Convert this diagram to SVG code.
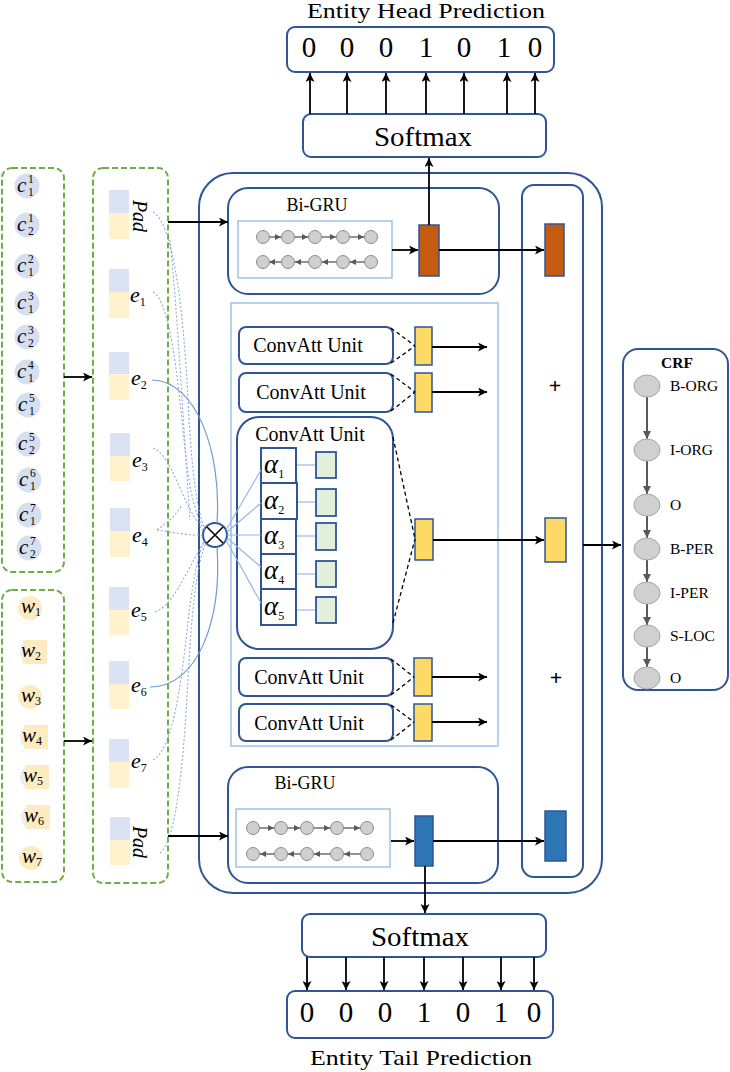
<svg xmlns="http://www.w3.org/2000/svg" width="730" height="1072" viewBox="0 0 730 1072">
<defs>
<marker id="ah" viewBox="0 0 10 10" refX="10" refY="5" markerWidth="9" markerHeight="9" markerUnits="userSpaceOnUse" orient="auto"><path d="M0,0 L10,5 L0,10 L2.5,5 z" fill="#000"/></marker>
<marker id="ahs" viewBox="0 0 10 10" refX="10" refY="5" markerWidth="6" markerHeight="6" markerUnits="userSpaceOnUse" orient="auto"><path d="M0,0 L10,5 L0,10 z" fill="#595959"/></marker>
<marker id="ahg" viewBox="0 0 10 10" refX="10" refY="5" markerWidth="8" markerHeight="8" markerUnits="userSpaceOnUse" orient="auto"><path d="M0,0 L10,5 L0,10 z" fill="#595959"/></marker>
</defs>
<style>
.t{font-family:"Liberation Serif","DejaVu Serif",serif;fill:#000}
.it{font-style:italic}
.box{fill:#fff;stroke:#2F5597;stroke-width:2}
.thin{fill:none;stroke:#2F5597;stroke-width:2}
.lb{fill:#fff;stroke:#9DC3E6;stroke-width:1.5}
.grn{fill:none;stroke:#70AD47;stroke-width:2;stroke-dasharray:6,3}
.ar{stroke:#000;stroke-width:1.8;fill:none;marker-end:url(#ah)}
.dash{stroke:#000;stroke-width:1.3;stroke-dasharray:4,3;fill:none}
.gc{fill:#D0CECE;stroke:#8C8C8C;stroke-width:1}
.ga{stroke:#595959;stroke-width:1.3;marker-end:url(#ahs)}
.eb{fill:#DAE3F3}
.ey{fill:#FFF2CC}
.cc{fill:#D6DFF0}
.wc{fill:#FFEBC2}
.dot{fill:none;stroke:#8FAADC;stroke-width:1.1;stroke-dasharray:2,2}
.sol{fill:none;stroke:#6F9BD8;stroke-width:1.2}
.fan{stroke:#8FB4E8;stroke-width:1.1}
.yel{fill:#FFD966;stroke:#2F5597;stroke-width:1.5}
.org{fill:#C55A11;stroke:#2F5597;stroke-width:1.5}
.blu{fill:#2E75B6;stroke:#2F5597;stroke-width:1.5}
.gsq{fill:#E2EFDA;stroke:#2F5597;stroke-width:1.8}
.crf{fill:#D0D0D0;stroke:#A6A6A6;stroke-width:1}
.ca{stroke:#595959;stroke-width:2;marker-end:url(#ahg)}
.sub{font-size:12px;font-style:normal}
</style>
<rect width="730" height="1072" fill="#fff"/>

<!-- Top prediction -->
<g id="head-title"><text class="t" x="426" y="18" font-size="21" text-anchor="middle" textLength="238" lengthAdjust="spacingAndGlyphs">Entity Head Prediction</text></g>
<g id="head-output">
<rect class="box" x="287" y="27" width="267" height="45" rx="8"/>
<g class="t" font-size="29" text-anchor="middle">
<text x="309" y="57">0</text><text x="347" y="57">0</text><text x="386" y="57">0</text><text x="426" y="57">1</text><text x="464" y="57">0</text><text x="504" y="57">1</text><text x="535" y="57">0</text>
</g>
</g>
<g id="head-softmax">
<rect class="box" x="303" y="114" width="243" height="43" rx="8"/>
<text class="t" x="423" y="146" font-size="27" text-anchor="middle" textLength="98" lengthAdjust="spacingAndGlyphs">Softmax</text>
</g>

<!-- Bottom prediction -->
<g id="tail-softmax">
<rect class="box" x="302" y="914" width="244" height="43" rx="8"/>
<text class="t" x="420" y="946" font-size="27" text-anchor="middle" textLength="98" lengthAdjust="spacingAndGlyphs">Softmax</text>
</g>
<g id="tail-output">
<rect class="box" x="287" y="991" width="266" height="47" rx="8"/>
<g class="t" font-size="29" text-anchor="middle">
<text x="307" y="1022">0</text><text x="346" y="1022">0</text><text x="385" y="1022">0</text><text x="424" y="1022">1</text><text x="463" y="1022">0</text><text x="501" y="1022">1</text><text x="534" y="1022">0</text>
</g>
</g>
<g id="tail-title"><text class="t" x="421" y="1065" font-size="21" text-anchor="middle" textLength="222" lengthAdjust="spacingAndGlyphs">Entity Tail Prediction</text></g>

<!-- Character input -->
<g id="char-input">
<rect class="grn" x="2" y="168" width="62" height="404" rx="10"/>
<g class="cc">
<circle cx="27" cy="186" r="12.5"/><circle cx="27" cy="225" r="12.5"/><circle cx="27" cy="266" r="12.5"/><circle cx="27" cy="303" r="12.5"/><circle cx="27" cy="337" r="12.5"/><circle cx="27" cy="372" r="12.5"/><circle cx="28" cy="405" r="12.5"/><circle cx="28" cy="444" r="12.5"/><circle cx="29" cy="480" r="12.5"/><circle cx="29" cy="515" r="12.5"/><circle cx="29" cy="548" r="12.5"/>
</g>
<g class="t it" font-size="21"><text x="17" y="192">c</text><text x="17" y="231">c</text><text x="17" y="272">c</text><text x="17" y="309">c</text><text x="17" y="343">c</text><text x="17" y="378">c</text><text x="18" y="411">c</text><text x="18" y="450">c</text><text x="19" y="486">c</text><text x="19" y="521">c</text><text x="19" y="554">c</text></g>
<g class="t" font-size="11.5">
<text x="28" y="183">1</text><text x="28" y="196">1</text>
<text x="28" y="222">1</text><text x="28" y="235">2</text>
<text x="28" y="263">2</text><text x="28" y="276">1</text>
<text x="28" y="300">3</text><text x="28" y="313">1</text>
<text x="28" y="334">3</text><text x="28" y="347">2</text>
<text x="28" y="369">4</text><text x="28" y="382">1</text>
<text x="29" y="402">5</text><text x="29" y="415">1</text>
<text x="29" y="441">5</text><text x="29" y="454">2</text>
<text x="30" y="477">6</text><text x="30" y="490">1</text>
<text x="30" y="512">7</text><text x="30" y="525">1</text>
<text x="30" y="545">7</text><text x="30" y="558">2</text>
</g>
</g>

<!-- Word input -->
<g id="word-input">
<rect class="grn" x="2" y="590" width="62" height="292" rx="10"/>
<g fill="#EDEDED"><circle cx="32" cy="652" r="12"/><circle cx="32" cy="737" r="12"/><circle cx="32" cy="777" r="12"/><circle cx="33" cy="817" r="12"/></g>
<g class="wc">
<circle cx="30" cy="608" r="12"/><rect x="23" y="640" width="24" height="24"/><circle cx="30" cy="697" r="12"/><rect x="24" y="725" width="24" height="24"/><rect x="25" y="765" width="24" height="24"/><rect x="26" y="805" width="24" height="24"/><circle cx="31" cy="858" r="12"/>
</g>
<g class="t it" font-size="21">
<text x="21" y="613">w<tspan class="sub" dy="3">1</tspan></text>
<text x="21" y="657">w<tspan class="sub" dy="3">2</tspan></text>
<text x="21" y="702">w<tspan class="sub" dy="3">3</tspan></text>
<text x="22" y="742">w<tspan class="sub" dy="3">4</tspan></text>
<text x="23" y="782">w<tspan class="sub" dy="3">5</tspan></text>
<text x="24" y="822">w<tspan class="sub" dy="3">6</tspan></text>
<text x="22" y="863">w<tspan class="sub" dy="3">7</tspan></text>
</g>
</g>

<!-- Embedding column -->
<g id="embeddings">
<rect class="grn" x="93" y="168" width="75" height="715" rx="10"/>
<g class="eb">
<rect x="109" y="190" width="20" height="23"/><rect x="109" y="269" width="20" height="23"/><rect x="109" y="352" width="20" height="22"/><rect x="110" y="433" width="20" height="23"/><rect x="110" y="508" width="20" height="23"/><rect x="109" y="587" width="20" height="23"/><rect x="109" y="661" width="20" height="23"/><rect x="109" y="739" width="20" height="23"/><rect x="110" y="817" width="20" height="23"/>
</g>
<g class="ey">
<rect x="109" y="213" width="20" height="26"/><rect x="109" y="292" width="20" height="26"/><rect x="109" y="374" width="20" height="26"/><rect x="110" y="456" width="20" height="25"/><rect x="110" y="531" width="20" height="26"/><rect x="109" y="610" width="20" height="25"/><rect x="109" y="684" width="20" height="25"/><rect x="109" y="762" width="20" height="26"/><rect x="110" y="840" width="20" height="25"/>
</g>
<text class="t it" x="0" y="0" font-size="20" text-anchor="middle" dominant-baseline="central" transform="translate(140,216) rotate(90)">Pad</text>
<text class="t it" x="0" y="0" font-size="20" text-anchor="middle" dominant-baseline="central" transform="translate(140,842) rotate(90)">Pad</text>
<g class="t it" font-size="22">
<text x="130" y="302">e<tspan class="sub" font-size="13" dy="4">1</tspan></text>
<text x="131" y="385">e<tspan class="sub" font-size="13" dy="4">2</tspan></text>
<text x="132" y="467">e<tspan class="sub" font-size="13" dy="4">3</tspan></text>
<text x="132" y="542">e<tspan class="sub" font-size="13" dy="4">4</tspan></text>
<text x="131" y="617">e<tspan class="sub" font-size="13" dy="4">5</tspan></text>
<text x="131" y="692">e<tspan class="sub" font-size="13" dy="4">6</tspan></text>
<text x="131" y="768">e<tspan class="sub" font-size="13" dy="4">7</tspan></text>
</g>
</g>

<!-- Main encoder container -->
<g id="encoder"><rect class="thin" x="199" y="173" width="403" height="720" rx="34"/></g>

<!-- Top Bi-GRU -->
<g id="bigru-top">
<rect class="box" x="228" y="188" width="271" height="106" rx="20"/>
<text class="t" x="317" y="211" font-size="18" text-anchor="middle">Bi-GRU</text>
<rect class="lb" x="238" y="221" width="154" height="57"/>
<g>
<line class="ga" x1="269" y1="237" x2="281" y2="237"/><line class="ga" x1="295" y1="237" x2="308" y2="237"/><line class="ga" x1="322" y1="237" x2="336" y2="237"/><line class="ga" x1="350" y1="237" x2="364" y2="237"/>
<line class="ga" x1="281" y1="262" x2="269" y2="262"/><line class="ga" x1="308" y1="262" x2="295" y2="262"/><line class="ga" x1="336" y1="262" x2="322" y2="262"/><line class="ga" x1="364" y1="262" x2="350" y2="262"/>
</g>
<g class="gc">
<circle cx="263" cy="237" r="6.5"/><circle cx="288" cy="237" r="6.5"/><circle cx="315" cy="237" r="6.5"/><circle cx="343" cy="237" r="6.5"/><circle cx="371" cy="237" r="6.5"/>
<circle cx="263" cy="262" r="6.5"/><circle cx="288" cy="262" r="6.5"/><circle cx="315" cy="262" r="6.5"/><circle cx="343" cy="262" r="6.5"/><circle cx="371" cy="262" r="6.5"/>
</g>
<rect class="org" x="419" y="225" width="20" height="51"/>
</g>

<!-- ConvAtt region -->
<g id="convatt-region"><rect class="lb" x="231" y="303" width="267" height="443"/></g>
<g id="convatt-1">
<rect class="box" x="239" y="327" width="154" height="37" rx="7"/>
<text class="t" x="308" y="352" font-size="20" text-anchor="middle">ConvAtt Unit</text>
<rect class="yel" x="415" y="327" width="17" height="38"/>
</g>
<g id="convatt-2">
<rect class="box" x="239" y="373" width="154" height="39" rx="7"/>
<text class="t" x="311" y="399" font-size="20" text-anchor="middle">ConvAtt Unit</text>
<rect class="yel" x="415" y="373" width="17" height="39"/>
</g>
<g id="convatt-3">
<rect class="box" x="237" y="417" width="156" height="232" rx="22"/>
<text class="t" x="310" y="441" font-size="20" text-anchor="middle">ConvAtt Unit</text>
<g class="fan">
<line x1="296" y1="465" x2="316" y2="465"/><line x1="296" y1="502" x2="316" y2="502"/><line x1="296" y1="536" x2="316" y2="536"/><line x1="296" y1="574" x2="316" y2="574"/><line x1="296" y1="610" x2="316" y2="610"/>
</g>
<g fill="#fff" stroke="#2F5597" stroke-width="2">
<rect x="261" y="448" width="35" height="35"/><rect x="261" y="483" width="36" height="36"/><rect x="261" y="519" width="35" height="35"/><rect x="261" y="554" width="35" height="35"/><rect x="261" y="589" width="35" height="36"/>
</g>
<g class="gsq">
<rect x="316" y="452" width="20" height="26"/><rect x="316" y="489" width="20" height="27"/><rect x="316" y="523" width="20" height="27"/><rect x="316" y="561" width="20" height="26"/><rect x="316" y="597" width="20" height="26"/>
</g>
<g class="t it" font-size="27">
<text x="264" y="473">α<tspan class="sub" font-size="15" dy="5">1</tspan></text>
<text x="264" y="509">α<tspan class="sub" font-size="15" dy="5">2</tspan></text>
<text x="264" y="544">α<tspan class="sub" font-size="15" dy="5">3</tspan></text>
<text x="264" y="579">α<tspan class="sub" font-size="15" dy="5">4</tspan></text>
<text x="264" y="615">α<tspan class="sub" font-size="15" dy="5">5</tspan></text>
</g>
<rect class="yel" x="415" y="519" width="18" height="41"/>
</g>
<g id="convatt-4">
<rect class="box" x="239" y="658" width="154" height="38" rx="7"/>
<text class="t" x="309" y="684" font-size="20" text-anchor="middle">ConvAtt Unit</text>
<rect class="yel" x="414" y="658" width="18" height="38"/>
</g>
<g id="convatt-5">
<rect class="box" x="239" y="704" width="154" height="37" rx="7"/>
<text class="t" x="309" y="730" font-size="20" text-anchor="middle">ConvAtt Unit</text>
<rect class="yel" x="414" y="704" width="18" height="37"/>
</g>

<!-- Bottom Bi-GRU -->
<g id="bigru-bottom">
<rect class="box" x="228" y="767" width="270" height="116" rx="20"/>
<text class="t" x="305" y="789" font-size="18" text-anchor="middle">Bi-GRU</text>
<rect class="lb" x="236" y="809" width="154" height="58"/>
<g>
<line class="ga" x1="260" y1="828" x2="274" y2="828"/><line class="ga" x1="288" y1="828" x2="300" y2="828"/><line class="ga" x1="314" y1="828" x2="330" y2="828"/><line class="ga" x1="344" y1="828" x2="360" y2="828"/>
<line class="ga" x1="274" y1="854" x2="260" y2="854"/><line class="ga" x1="300" y1="854" x2="288" y2="854"/><line class="ga" x1="330" y1="854" x2="314" y2="854"/><line class="ga" x1="360" y1="854" x2="344" y2="854"/>
</g>
<g class="gc">
<circle cx="253" cy="828" r="6.5"/><circle cx="281" cy="828" r="6.5"/><circle cx="307" cy="828" r="6.5"/><circle cx="337" cy="828" r="6.5"/><circle cx="367" cy="828" r="6.5"/>
<circle cx="253" cy="854" r="6.5"/><circle cx="281" cy="854" r="6.5"/><circle cx="307" cy="854" r="6.5"/><circle cx="337" cy="854" r="6.5"/><circle cx="367" cy="854" r="6.5"/>
</g>
<rect class="blu" x="415" y="816" width="18" height="50"/>
</g>

<!-- Sum column -->
<g id="sum-column">
<rect class="thin" x="522" y="185" width="61" height="692" rx="12"/>
<rect class="org" x="545" y="224" width="19" height="52"/>
<text class="t" x="555" y="393" font-size="22" text-anchor="middle" font-family="Liberation Sans" font-weight="bold">+</text>
<rect class="yel" x="545" y="518" width="21" height="44"/>
<text class="t" x="556" y="685" font-size="22" text-anchor="middle" font-family="Liberation Sans" font-weight="bold">+</text>
<rect class="blu" x="545" y="811" width="21" height="50"/>
</g>

<!-- CRF -->
<g id="crf">
<rect class="box" x="623" y="349" width="105" height="341" rx="15"/>
<text class="t" x="677" y="368" font-size="15.5" font-weight="bold" text-anchor="middle">CRF</text>
<line class="ca" x1="647" y1="397" x2="647" y2="439"/>
<line class="ca" x1="647" y1="461" x2="647" y2="494"/>
<line class="ca" x1="647" y1="516" x2="647" y2="538"/>
<line class="ca" x1="647" y1="560" x2="647" y2="582"/>
<line class="ca" x1="647" y1="604" x2="647" y2="625"/>
<line class="ca" x1="647" y1="647" x2="647" y2="667"/>
<g class="crf">
<ellipse cx="647" cy="386" rx="13" ry="11"/><ellipse cx="647" cy="450" rx="13" ry="11"/><ellipse cx="647" cy="505" rx="13" ry="11"/><ellipse cx="647" cy="549" rx="13" ry="11"/><ellipse cx="647" cy="593" rx="13" ry="11"/><ellipse cx="647" cy="636" rx="13" ry="11"/><ellipse cx="647" cy="678" rx="13" ry="11"/>
</g>
<g class="t" font-size="15.5">
<text x="670" y="391">B-ORG</text><text x="670" y="455">I-ORG</text><text x="670" y="510">O</text><text x="670" y="554">B-PER</text><text x="670" y="598">I-PER</text><text x="670" y="641">S-LOC</text><text x="670" y="683">O</text>
</g>
</g>

<!-- Attention combiner -->
<g id="combiner">
<circle cx="215" cy="535" r="12" fill="#fff" stroke="#2F5597" stroke-width="2"/>
<path d="M207,527 L223,543 M223,527 L207,543" stroke="#000" stroke-width="1.6"/>
</g>

<!-- Connectors -->
<g id="connectors">
<g class="dot">
<path d="M153,212 C172,222 183,300 188,400 C192,480 198,515 205,528"/>
<path d="M153,292 C170,300 178,380 184,440 C190,500 198,522 205,530"/>
<path d="M153,448 C172,455 180,500 204,532"/>
<path d="M157,530 C168,522 176,515 182,505 M157,530 C172,532 190,536 203,535"/>
<path d="M155,612 C172,606 182,580 205,540"/>
<path d="M153,760 C172,750 180,690 186,640 C191,590 198,550 205,541"/>
<path d="M160,853 C176,840 183,770 188,680 C192,600 198,560 206,543"/>
<path d="M170,240 C178,320 183,420 190,520"/>
</g>
<path class="sol" d="M152,380 C195,380 222,450 217,523"/>
<path class="sol" d="M150,687 C198,687 222,620 217,547"/>
<g class="fan">
<line x1="226" y1="530" x2="261" y2="470"/><line x1="227" y1="532" x2="261" y2="503"/><line x1="227" y1="535" x2="261" y2="535"/><line x1="227" y1="538" x2="261" y2="567"/><line x1="226" y1="540" x2="261" y2="603"/>
</g>
<path class="ar" d="M64,377 L92,377"/>
<path class="ar" d="M64,741 L92,741"/>
<path class="ar" d="M168,222 L228,222"/>
<path class="ar" d="M168,836 L228,836"/>
<path class="ar" d="M392,250 L418,250"/>
<path class="ar" d="M439,250 L544,250"/>
<path class="ar" d="M429,225 L429,158"/>
<g class="ar">
<path d="M310,114 L310,73"/><path d="M347,114 L347,73"/><path d="M386,114 L386,73"/><path d="M426,114 L426,73"/><path d="M464,114 L464,73"/><path d="M507,114 L507,73"/><path d="M535,114 L535,73"/>
</g>
<g class="dash">
<path d="M391,328 L415,346 M391,363 L415,346"/>
<path d="M391,374 L415,392 M391,411 L415,392"/>
<path d="M393,437 L415,539 M393,623 L415,539"/>
<path d="M391,659 L414,677 M391,695 L414,677"/>
<path d="M391,705 L414,722 M391,740 L414,722"/>
</g>
<path class="ar" d="M432,347 L487,347"/>
<path class="ar" d="M432,392 L487,392"/>
<path class="ar" d="M433,540 L544,540"/>
<path class="ar" d="M432,677 L487,677"/>
<path class="ar" d="M432,722 L487,722"/>
<path class="ar" d="M583,545 L621,545"/>
<path class="ar" d="M391,841 L414,841"/>
<path class="ar" d="M433,841 L544,841"/>
<path class="ar" d="M425,866 L425,913"/>
<g class="ar">
<path d="M307,957 L307,990"/><path d="M346,957 L346,990"/><path d="M384,957 L384,990"/><path d="M424,957 L424,990"/><path d="M463,957 L463,990"/><path d="M501,957 L501,990"/><path d="M534,957 L534,990"/>
</g>
</g>
</svg>
